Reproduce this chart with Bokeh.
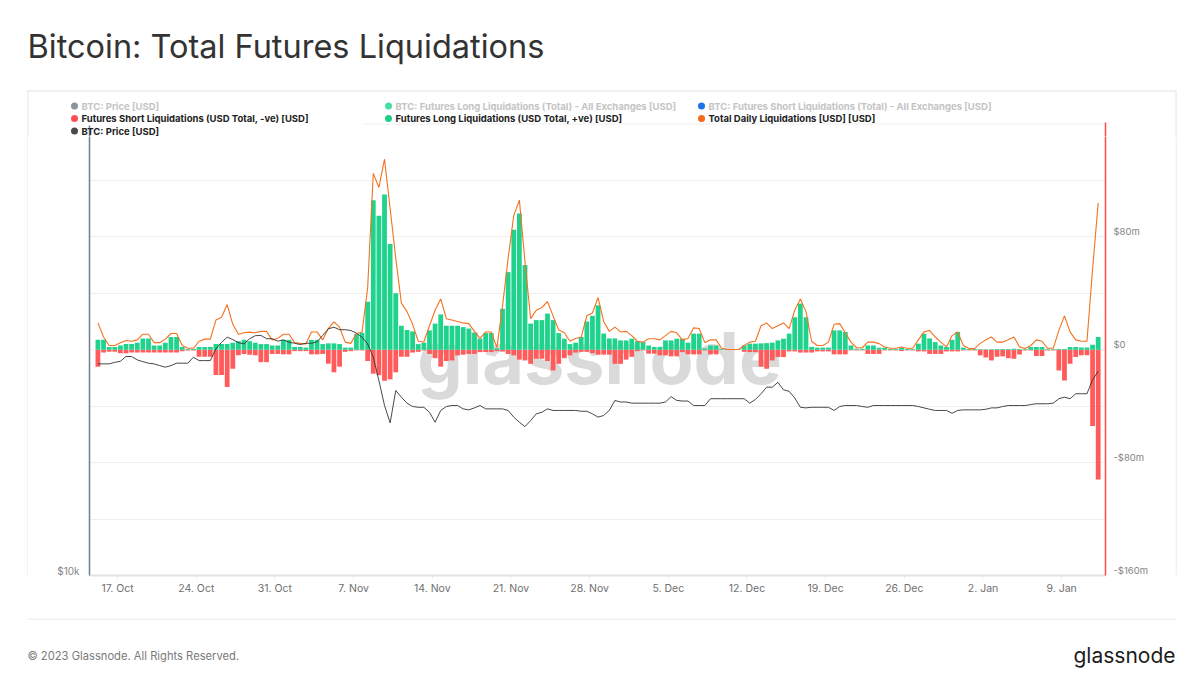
import pandas as pd
from bokeh.plotting import figure
from bokeh.layouts import column, row
from bokeh.models import (Range1d, LinearAxis, LogAxis, LogScale, FixedTicker, Grid,
                          Label, ColumnDataSource)
from bokeh.core.properties import value
from bokeh.embed import file_html
from bokeh.resources import INLINE

# ---------------- data (12-hour buckets starting 2022-10-15 00:00) ----------------
# Futures long liquidations, USD millions (positive)
long_liq_m = [
    7, 7, 2, 2, 3, 4, 4, 5, 8, 8,
    3, 3, 5, 9, 9, 2, 0.5, 0.5, 2, 2,
    2, 4, 4, 4, 5, 6, 7, 6, 5, 4,
    4, 3, 3, 7, 7, 2, 2, 1.5, 7, 7,
    4, 4.5, 4.5, 4, 1.5, 1.5, 11, 12, 34, 106,
    95, 110, 75, 40, 17, 14, 13, 4, 5, 13.7,
    18.5, 25, 17, 17, 17, 16, 15, 12, 7.8, 11.8,
    11.8, 1, 29, 55, 85, 96.6, 60, 18.5, 21, 21,
    25.6, 21, 11.8, 7.8, 4, 5, 9, 20, 24, 31.5,
    11.5, 8, 8, 6.6, 6.6, 7.8, 6, 5.4, 3, 2,
    2, 6.6, 6.6, 7.8, 7.8, 5, 11.4, 11.4, 1, 3,
    3, 0.5, 0.3, 0.2, 0.2, 3, 4.3, 4.3, 4.5, 4.7,
    5, 6.6, 7.8, 11.4, 23, 32.7, 23, 2, 1.5, 1.5,
    1.5, 13.7, 13.7, 12.6, 3, 0.7, 0.7, 3, 3, 1.4,
    1.4, 0.5, 0.5, 1.2, 0.5, 0.5, 4.3, 11.4, 8, 5.4,
    3, 1.9, 7, 12.6, 1.5, 0.5, 0.5, 0.3, 0.3, 0.3,
    0.5, 0.5, 0.5, 0.7, 0.5, 0.3, 1.9, 1.9, 1.9, 0.3,
    0.3, 0.5, 0.5, 1.9, 1.9, 1.5, 1.5, 3.5, 9,
]
# Futures short liquidations, USD millions (negative)
short_liq_m = [
    -12, -2, -1.5, -1.5, -2.5, -2.5, -2, -2, -2, -2,
    -2, -2, -2, -2, -2, -1, -0.5, -0.5, -5, -5,
    -5, -18, -18, -26.5, -13.5, -4, -3, -3.5, -4, -8.8,
    -8.8, -3, -3, -3.3, -3.3, -1, -1, -1, -3.3, -3.3,
    -3, -9.9, -16, -12, -1.5, -1, -0.5, -0.5, -8, -17,
    -18, -22, -21, -16, -5, -5, -2, -1.5, -0.5, -3,
    -6, -12, -8, -7.6, -4, -3.5, -3, -3, -1.7, -1.7,
    -1.7, -1, -1.2, -3, -4, -7, -7.6, -10, -6.4, -6.4,
    -8, -14.7, -10, -6, -4, -2, -1.5, -1.5, -2.5, -3.5,
    -3.5, -3.5, -10, -10, -7, -5, -1, -0.5, -2.8, -2.8,
    -4, -4, -4.7, -4.7, -1.7, -3.3, -3.3, -3.3, -0.5, -3.3,
    -3.3, -0.2, -0.1, -0.1, -0.1, -1.5, -1.7, -1.7, -12, -13.5,
    -7.6, -5.2, -5.2, -1.2, -1.2, -2, -2, -2, -1.2, -1.2,
    -1.2, -3.3, -3.3, -3.3, -0.5, -0.5, -0.5, -3, -3, -3,
    -0.5, -0.5, -0.5, -0.9, -0.5, -0.5, -1.2, -1.2, -3, -3,
    -3, -1.2, -1.2, -1.2, -0.5, -0.5, -0.5, -4, -5.5, -7.6,
    -5, -4.7, -6, -6.4, -3.3, -0.5, -0.5, -4.5, -4.5, -0.5,
    -0.5, -14.7, -21.8, -10, -5.2, -4, -4, -54, -92,
]
# Total daily liquidations, USD millions
total_liq_m = [
    19, 9, 3, 3, 5, 6.5, 6, 7, 11, 11,
    5, 5, 7.5, 11.5, 11.5, 3, 1, 1, 6, 7.5,
    7.5, 21, 23, 32, 18, 11, 12, 12.5, 12, 13,
    13, 7, 8, 11, 11, 5, 4.5, 4, 12.6, 12.6,
    7, 15, 19.7, 16, 5.4, 4.5, 11.5, 12.5, 44, 125,
    115, 135, 100, 65, 33, 27, 18, 6, 5.5, 17,
    28, 36, 22, 21, 20, 19, 18.5, 13, 8, 12.6,
    12.6, 1.5, 31, 65, 95, 106, 62, 22, 28, 30,
    34, 24, 14, 12, 6, 8, 9, 24, 26, 37,
    20, 13, 16, 12.6, 13, 10, 6, 5.4, 7.8, 7.8,
    7, 10, 13, 12, 7, 8, 15.5, 15, 5, 7,
    7, 1, 0.2, 0.2, 0.2, 3, 5.4, 6, 17, 19,
    15, 17, 19, 15, 28, 36, 27, 6, 3, 3,
    5.4, 18, 18.5, 12, 5.4, 1.4, 1.4, 5.4, 5.4, 4.3,
    1.9, 1, 1, 1.9, 1, 1, 7, 12.6, 13.7, 9,
    5.4, 2, 10, 12.6, 3, 0.8, 0.8, 4.5, 7, 9,
    5.4, 5.4, 7, 9, 2, 0.8, 3, 7, 6, 1,
    1, 13.7, 24, 12.6, 7, 6, 6, 57, 104,
]
# BTC price, USD thousands
price_k = [
    19.02, 19.02, 19.02, 19.11, 19.17, 19.45, 19.45, 19.25, 19.15, 19.06,
    19.02, 18.92, 18.83, 18.92, 19.06, 19.06, 19.06, 19.41, 19.21, 19.21,
    19.21, 19.91, 20.31, 20.63, 20.48, 20.29, 20.21, 20.53, 20.72, 20.74,
    20.53, 20.53, 20.38, 20.46, 20.31, 20.25, 20.17, 20.25, 20.25, 20.34,
    20.74, 21.16, 21.26, 21.10, 21.10, 21.05, 20.88, 20.63, 20.21, 19.41,
    18.08, 16.76, 15.9, 17.54, 17.19, 16.88, 16.71, 16.67, 16.67, 16.42,
    15.93, 16.51, 16.71, 16.76, 16.76, 16.59, 16.54, 16.64, 16.76, 16.59,
    16.59, 16.59, 16.59, 16.51, 16.18, 15.93, 15.72, 16.01, 16.34, 16.42,
    16.59, 16.51, 16.51, 16.51, 16.51, 16.51, 16.47, 16.47, 16.34, 16.18,
    16.26, 16.51, 17.02, 16.94, 16.94, 16.88, 16.88, 16.88, 16.88, 16.88,
    16.88, 16.94, 17.22, 17.02, 16.99, 16.99, 16.76, 16.76, 16.76, 17.11,
    17.11, 17.11, 17.11, 17.11, 17.11, 17.11, 16.88, 17.07, 17.37, 17.72,
    17.72, 17.98, 17.58, 17.50, 17.15, 16.67, 16.64, 16.67, 16.67, 16.67,
    16.67, 16.51, 16.71, 16.76, 16.76, 16.76, 16.71, 16.67, 16.76, 16.76,
    16.76, 16.76, 16.76, 16.76, 16.76, 16.76, 16.71, 16.64, 16.57, 16.51,
    16.51, 16.51, 16.37, 16.51, 16.54, 16.54, 16.54, 16.54, 16.57, 16.64,
    16.64, 16.71, 16.76, 16.76, 16.76, 16.76, 16.81, 16.85, 16.85, 16.85,
    16.88, 17.11, 17.19, 17.11, 17.37, 17.37, 17.37, 18.12, 18.6,
]
tick_dates = ["2022-10-17", "2022-10-24", "2022-10-31", "2022-11-07", "2022-11-14",
              "2022-11-21", "2022-11-28", "2022-12-05", "2022-12-12", "2022-12-19",
              "2022-12-26", "2023-01-02", "2023-01-09"]
tick_labels = ["17. Oct", "24. Oct", "31. Oct", "7. Nov", "14. Nov", "21. Nov", "28. Nov",
               "5. Dec", "12. Dec", "19. Dec", "26. Dec", "2. Jan", "9. Jan"]
right_ticks = [80_000_000, 0, -80_000_000, -160_000_000]
right_labels = ["$80m", "$0", "-$80m", "-$160m"]
price_tick = 10000
price_label = "$10k"
legend_inactive = ["BTC: Price [USD]",
                   "BTC: Futures Long Liquidations (Total) - All Exchanges [USD]",
                   "BTC: Futures Short Liquidations (Total) - All Exchanges [USD]"]
legend_active = ["Futures Short Liquidations (USD Total, -ve) [USD]",
                 "Futures Long Liquidations (USD Total, +ve) [USD]",
                 "Total Daily Liquidations [USD] [USD]",
                 "BTC: Price [USD]"]

W = 1190
CARD_L, CARD_R, CARD_T, CARD_B = 27, 1175, 90, 618
HEAD_H = 136          # header height (page y 0..136)
FRAME_L, FRAME_R, FRAME_B = 89, 1105, 575
BORDER = "#e4e4e4"
LABEL_LIFT_PX = 5     # axis labels sit a few pixels above their grid line


def deco_fig(w, h):
    f = figure(width=w, height=h, x_range=Range1d(0, w), y_range=Range1d(h, 0),
               x_axis_location=None, y_axis_location=None, output_backend="svg",
               toolbar_location=None, min_border=0, title=None)
    f.outline_line_color = None
    f.grid.grid_line_color = None
    f.background_fill_color = "white"
    f.border_fill_color = "white"
    return f


# ---------------- header: title + legend ----------------
head = deco_fig(W, HEAD_H)
head.text(x=[27], y=[46], text=["Bitcoin: Total Futures Liquidations"],
          text_font=value("Inter"), text_font_size="32.5px", text_color="#333333",
          text_baseline="middle")
head.segment(x0=[CARD_L, CARD_L + 0.5, CARD_R + 0.5], y0=[CARD_T + 0.5, CARD_T, CARD_T],
             x1=[CARD_R + 0.5, CARD_L + 0.5, CARD_R + 0.5], y1=[CARD_T + 0.5, HEAD_H, HEAD_H],
             line_color=BORDER, line_width=1)
head.segment(x0=[362], y0=[123.5], x1=[FRAME_R], y1=[123.5], line_color="#efefef", line_width=1)
head.segment(x0=[FRAME_L], y0=[125], x1=[FRAME_L], y1=[HEAD_H], line_color="#6f7f90", line_width=1.5)
head.segment(x0=[FRAME_R], y0=[122], x1=[FRAME_R], y1=[HEAD_H], line_color="#ff4a4a", line_width=1.5)

col_x = [74, 388, 701]
inactive_dots = ["#8c949c", "#43dea0", "#1c74e6"]
active_dots = ["#ff4f52", "#1ecf88", "#f26a1c", "#4a4a4a"]
row1_y = 105.5
head.scatter(x=col_x, y=[row1_y] * 3, size=7, color=inactive_dots, line_color=None)
head.text(x=[c + 7 for c in col_x], y=[row1_y] * 3, text=legend_inactive,
          text_font=value("Inter"), text_font_size="9.5px", text_font_style="bold",
          text_color="#c4c4c4", text_baseline="middle")
act_x = col_x + [74]
act_y = [118, 118, 118, 130.5]
head.scatter(x=act_x, y=act_y, size=7, color=active_dots, line_color=None)
head.text(x=[c + 7 for c in act_x], y=act_y, text=legend_active,
          text_font=value("Inter"), text_font_size="9.5px", text_font_style="bold",
          text_color="#222222", text_baseline="middle")

# ---------------- chart ----------------
times = pd.date_range("2022-10-15 00:00", periods=len(long_liq_m), freq="12h")
centers = times + pd.Timedelta(hours=6)
src = ColumnDataSource(dict(
    x=centers,
    long=[v * 1e6 for v in long_liq_m],
    short=[v * 1e6 for v in short_liq_m],
    total=[v * 1e6 for v in total_liq_m],
    price=[v * 1000 for v in price_k],
))

CH_H = CARD_B - HEAD_H
CH_W = CARD_R - (CARD_L + 1)
x_start = pd.Timestamp("2022-10-14 12:00")
x_end = x_start + pd.Timedelta(days=90.4)
y_lo, y_hi = -160e6, 151.1e6
p_lo, p_hi = 10000, 37950

p = figure(width=CH_W, height=CH_H,
           x_range=Range1d(x_start, x_end), y_range=Range1d(y_lo, y_hi),
           x_axis_type=None, y_axis_type=None, title=None,
           output_backend="svg", toolbar_location=None,
           min_border_left=FRAME_L - (CARD_L + 1), min_border_right=CARD_R - FRAME_R,
           min_border_top=0, min_border_bottom=CARD_B - FRAME_B)
p.outline_line_color = None
p.background_fill_color = "white"
p.border_fill_color = "white"
p.extra_y_ranges = {"price": Range1d(p_lo, p_hi)}
p.extra_y_scales = {"price": LogScale()}

grid_ticks = [v * 1_000_000 for v in (-160, -120, -80, -40, 0, 40, 80, 120, 160)]
p.add_layout(Grid(dimension=1, ticker=FixedTicker(ticks=grid_ticks),
                  grid_line_color="#efefef", grid_line_width=1))

tick_ms = [int(pd.Timestamp(d).value // 10**6) for d in tick_dates]
xaxis = LinearAxis(ticker=FixedTicker(ticks=tick_ms),
                   major_label_overrides={t: l for t, l in zip(tick_ms, tick_labels)})
xaxis.axis_line_color = "#e3e3e3"
xaxis.axis_line_width = 2
xaxis.major_tick_line_color = "#e3e3e3"
xaxis.major_tick_out = 3
xaxis.major_tick_in = 0
xaxis.minor_tick_line_color = None
xaxis.major_label_standoff = 3
xaxis.major_label_text_font = "Inter"
xaxis.major_label_text_font_size = "10.5px"
xaxis.major_label_text_color = "#6f6f6f"
p.add_layout(xaxis, "below")

# right axis labels: lifted a few pixels above their grid lines (invisible ticks)
frame_h = FRAME_B - HEAD_H
lift_val = LABEL_LIFT_PX * (y_hi - y_lo) / frame_h
r_pos = [t + lift_val for t in right_ticks]
raxis = LinearAxis(ticker=FixedTicker(ticks=r_pos),
                   major_label_overrides={t: l for t, l in zip(r_pos, right_labels)})
raxis.axis_line_color = "#ff4a4a"
raxis.axis_line_width = 1.5
raxis.major_tick_line_color = None
raxis.major_tick_out = 0
raxis.major_tick_in = 0
raxis.minor_tick_line_color = None
raxis.major_label_standoff = 8
raxis.major_label_text_font = "Inter"
raxis.major_label_text_font_size = "9.5px"
raxis.major_label_text_color = "#858585"
p.add_layout(raxis, "right")

p_pos = price_tick * (p_hi / p_lo) ** (LABEL_LIFT_PX / frame_h)
laxis = LogAxis(y_range_name="price", ticker=FixedTicker(ticks=[p_pos]),
                major_label_overrides={p_pos: price_label})
laxis.axis_line_color = "#6f7f90"
laxis.axis_line_width = 1.5
laxis.major_tick_line_color = None
laxis.major_tick_out = 0
laxis.major_tick_in = 0
laxis.minor_tick_line_color = None
laxis.major_label_standoff = 10
laxis.major_label_text_font = "Inter"
laxis.major_label_text_font_size = "10px"
laxis.major_label_text_color = "#858585"
p.add_layout(laxis, "left")

p.add_layout(Label(x=599 - FRAME_L, y=FRAME_B - 357, x_units="screen", y_units="screen",
                   text="glassnode", text_font="Inter", text_font_size="72px",
                   text_font_style="bold", text_color="#dadada", text_align="center",
                   text_baseline="alphabetic", level="underlay"))

bw = 12 * 3600 * 1000 * 0.85
p.vbar(x="x", top=0, bottom="short", width=bw, source=src, fill_color="#ff5b5b",
       line_color=None)
p.vbar(x="x", top="long", bottom=0, width=bw, source=src, fill_color="#1fd38c",
       line_color=None)
p.line(x="x", y="total", source=src, line_color="#f4711f", line_width=1.1)
p.line(x="x", y="price", source=src, y_range_name="price", line_color="#333333",
       line_width=0.9)

left_side = deco_fig(CARD_L + 1, CH_H)
left_side.segment(x0=[CARD_L + 0.5], y0=[0], x1=[CARD_L + 0.5], y1=[CH_H],
                  line_color=BORDER, line_width=1)
right_side = deco_fig(W - CARD_R, CH_H)
right_side.segment(x0=[0.5], y0=[0], x1=[0.5], y1=[CH_H], line_color=BORDER, line_width=1)

# ---------------- footer ----------------
FOOT_H = 691 - CARD_B - 4
foot = deco_fig(W, FOOT_H)
foot.segment(x0=[CARD_L], y0=[0.5], x1=[CARD_R + 1], y1=[0.5], line_color=BORDER, line_width=1)
foot.text(x=[27], y=[655 - CARD_B], text=["© 2023 Glassnode. All Rights Reserved."],
          text_font=value("Inter"), text_font_size="11.2px", text_color="#7a7a7a",
          text_baseline="middle")
foot.text(x=[CARD_R], y=[655 - CARD_B], text=["glassnode"],
          text_font=value("Inter"), text_font_size="21px", text_color="#1c1c1c",
          text_baseline="middle", text_align="right")

layout = column(head, row(left_side, p, right_side), foot)
open("out.html", "w").write(file_html(layout, INLINE))
